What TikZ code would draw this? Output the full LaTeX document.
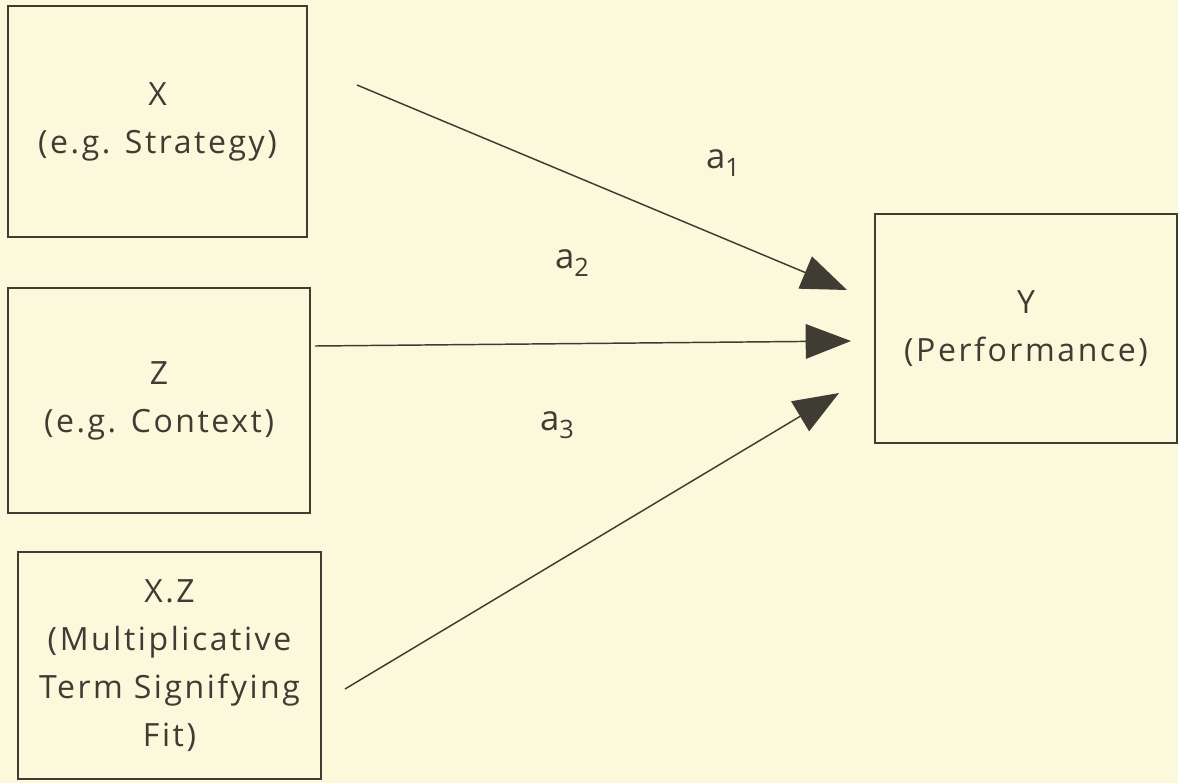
\documentclass[tikz,border=0pt]{standalone}
\usepackage{fontspec}
\setmainfont{Open Sans}[LetterSpace=8]
\usetikzlibrary{arrows.meta}
\definecolor{bg}{HTML}{FBF8DC}
\definecolor{ink}{HTML}{3E3C33}
\newcommand{\sublab}[1]{a\raisebox{-0.22em}{\fontsize{19}{19}\selectfont #1}}
\begin{document}
\begin{tikzpicture}[x=0.75pt,y=-0.75pt,
  box/.style={draw=ink,line width=1.1pt,inner sep=0pt,align=center,text=ink,
    font=\fontsize{24}{36}\selectfont},
  link/.style={draw=ink,line width=1.1pt,-{Triangle[length=34pt,width=26pt]}},
  lab/.style={text=ink,font=\fontsize{26}{28}\selectfont,inner sep=0pt}]
\fill[bg] (0,0) rectangle (1178,783);
\useasboundingbox (0,0) rectangle (1178,783);
\node[box,minimum width=299*0.75pt,minimum height=231*0.75pt] (X) at (157.5,121.5) {X\\(e.g. Strategy)};
\node[box,minimum width=302*0.75pt,minimum height=225*0.75pt] (Z) at (159,400.5) {Z\\(e.g. Context)};
\node[box,minimum width=303*0.75pt,minimum height=227*0.75pt] (XZ) at (169.5,665.5) {X.Z\\(Multiplicative\\Term Signifying\\Fit)};
\node[box,minimum width=302*0.75pt,minimum height=229*0.75pt] (Y) at (1026,328.5) {Y\\(Performance)};
\coordinate (s1) at (357,85);
\coordinate (e1) at (847,290);
\coordinate (s2) at (315,346);
\coordinate (e2) at (851,341);
\coordinate (s3) at (345,689);
\coordinate (e3) at (839,393);
\draw[link] (s1) -- (e1);
\draw[link] (s2) -- (e2);
\draw[link] (s3) -- (e3);
\node[lab] (a1) at (723,163) {\sublab{1}};
\node[lab] (a2) at (572,263) {\sublab{2}};
\node[lab] (a3) at (557,425) {\sublab{3}};
\end{tikzpicture}
\end{document}
